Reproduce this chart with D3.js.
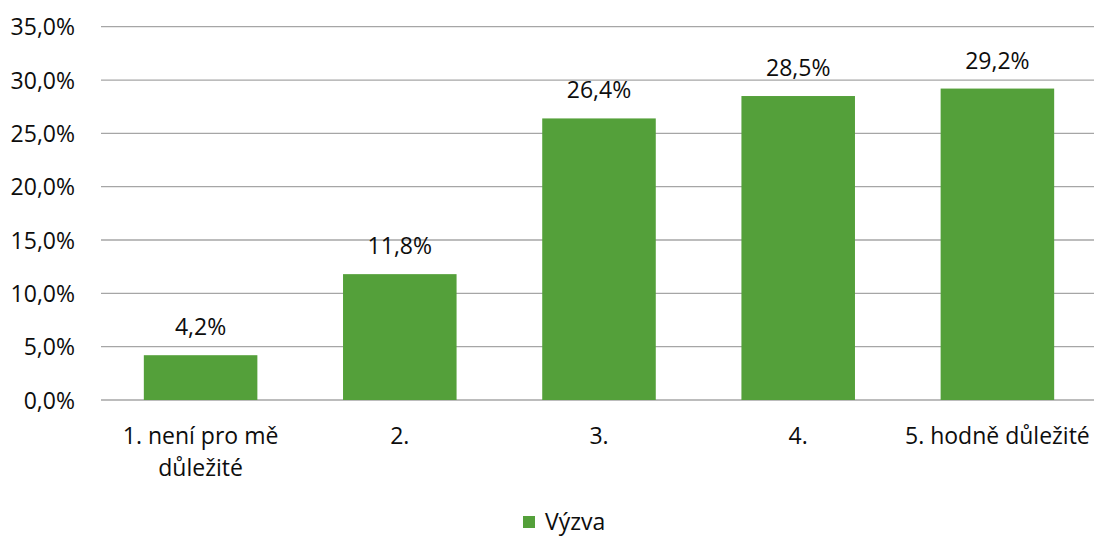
<!DOCTYPE html>
<html><head><meta charset="utf-8">
<script src="https://cdn.jsdelivr.net/npm/d3@7"></script>
<style>body{margin:0;background:#fff}svg{display:block}text{font-family:"Open Sans",sans-serif;fill:#0d0d0d}</style>
</head><body><svg id="c" width="1094" height="536"></svg>
<script>
const categories = ["1. není pro mě|důležité", "2.", "3.", "4.", "5. hodně důležité"];
const values = [4.2, 11.8, 26.4, 28.5, 29.2];
const yTicks = [0, 5, 10, 15, 20, 25, 30, 35];
const seriesName = "Výzva";

const FS = 23;
const svg = d3.select("#c");
const fmt = v => d3.format(".1f")(v).replace(".", ",") + "%";
const x = d3.scaleBand().domain(categories).range([101, 1097]).paddingInner(0.43).paddingOuter(0.215);
const y = d3.scaleLinear().domain([0, 35]).range([400, 26.7]);

const g = svg.append("g");
g.selectAll("line.grid").data(yTicks).join("line")
  .attr("x1", 101).attr("x2", 1094)
  .attr("y1", d => y(d)).attr("y2", d => y(d))
  .attr("stroke", "#a6a6a6").attr("stroke-width", 1.3);

const yAxis = d3.axisLeft(y).tickValues(yTicks).tickFormat(fmt).tickSize(0).tickPadding(26);
const ya = svg.append("g").attr("transform", "translate(101,0)").call(yAxis);
ya.select(".domain").remove();
ya.selectAll("text").attr("font-size", FS).attr("font-family", "Open Sans").attr("fill", "#0d0d0d").attr("dy", "0.35em");

svg.selectAll("rect.bar").data(values).join("rect")
  .attr("x", (d, i) => x(categories[i])).attr("width", x.bandwidth())
  .attr("y", d => y(d)).attr("height", d => y(0) - y(d))
  .attr("fill", "#54a03a");

svg.selectAll("text.val").data(values).join("text")
  .attr("x", (d, i) => x(categories[i]) + x.bandwidth() / 2)
  .attr("y", d => y(d) - 20)
  .attr("text-anchor", "middle").attr("font-size", FS).text(d => fmt(d));

const xa = svg.append("g").attr("transform", "translate(0,400)").call(d3.axisBottom(x).tickSize(0).tickFormat(""));
xa.select(".domain").remove();
categories.forEach(c => {
  const lines = c.split("|");
  const t = svg.append("text").attr("x", x(c) + x.bandwidth() / 2).attr("y", 444)
    .attr("text-anchor", "middle").attr("font-size", FS);
  lines.forEach((l, j) => t.append("tspan").attr("x", x(c) + x.bandwidth() / 2).attr("dy", j ? 32 : 0).text(l));
});

svg.append("rect").attr("x", 523).attr("y", 516).attr("width", 12).attr("height", 12).attr("fill", "#54a03a");
svg.append("text").attr("x", 545).attr("y", 530).attr("font-size", FS).text(seriesName);
</script></body></html>
